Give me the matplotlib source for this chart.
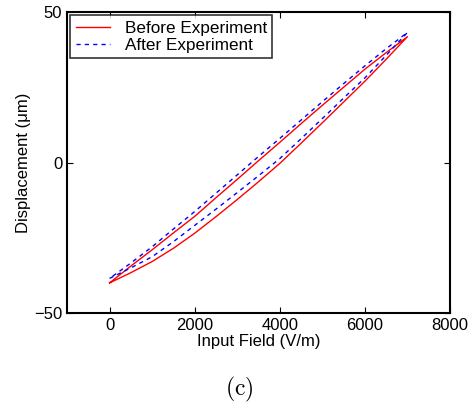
import matplotlib
matplotlib.use("Agg")
import matplotlib.pyplot as plt

# Input field (V/m) samples
field = [0, 500, 1000, 1500, 2000, 2500, 3000, 3500, 4000, 4500, 5000, 5500, 6000, 6500, 7000]

# Before experiment: ascending (lower) and descending (upper) branches
before_lower = [-40.0, -36.6, -32.9, -28.5, -23.5, -18.0, -12.3, -6.4, -0.3, 6.4, 13.2, 20.1, 27.0, 34.3, 41.8]
before_upper = [-40.0, -34.4, -29.0, -23.4, -17.9, -11.7, -5.6, 0.6, 6.7, 12.9, 19.0, 25.0, 31.0, 36.5, 41.8]

# After experiment
after_lower = [-38.5, -35.0, -31.3, -26.3, -20.9, -15.5, -10.0, -4.4, 1.3, 7.9, 14.6, 21.4, 28.1, 35.6, 43.2]
after_upper = [-38.5, -33.4, -28.0, -22.1, -16.3, -10.2, -4.1, 2.0, 8.0, 14.1, 20.2, 26.2, 32.1, 37.8, 43.2]

xticks = [0, 2000, 4000, 6000, 8000]
yticks = [-50, 0, 50]

plt.rcParams['font.family'] = ['Liberation Sans', 'DejaVu Sans']
plt.rcParams['mathtext.fontset'] = 'cm'

fig = plt.figure(figsize=(4.69, 4.08), dpi=100)
ax = fig.add_axes([0.1429, 0.2328, 0.8166, 0.7378])

def loop(lo, up):
    xs = list(field) + list(field[::-1])
    ys = list(lo) + list(up[::-1])
    return xs, ys

xb, yb = loop(before_lower, before_upper)
xa, ya = loop(after_lower, after_upper)
ax.plot(xb, yb, '-', color='#ff0000', lw=1.0, label='Before Experiment')
ax.plot(xa, ya, '--', color='#0000ff', lw=1.0, dashes=(3, 3), label='After Experiment')

ax.set_xlim(-1000, 8000)
ax.set_ylim(-50, 50)
ax.set_xticks(xticks)
ax.set_yticks(yticks)
ax.set_yticklabels(['\u221250', '0', '50'])
ax.tick_params(direction='in', top=True, right=True, labelsize=12, length=4, width=0.8)
for s in ax.spines.values():
    s.set_linewidth(1.5)

ax.set_xlabel('Input Field (V/m)', fontsize=12, labelpad=1)
ax.set_ylabel('Displacement (\u03bcm)', fontsize=12, labelpad=2)

leg = ax.legend(loc='upper left', fontsize=12.3, frameon=True, fancybox=False,
                borderaxespad=0.2, handlelength=2.0, borderpad=0.3,
                labelspacing=0.15, handletextpad=0.9)
leg.get_frame().set_edgecolor('black')
leg.get_frame().set_linewidth(1.2)

fig.text(0.51, 0.045, r'$\mathrm{(c)}$', ha='center', va='center', fontsize=17)

fig.savefig('out.png', dpi=100)
